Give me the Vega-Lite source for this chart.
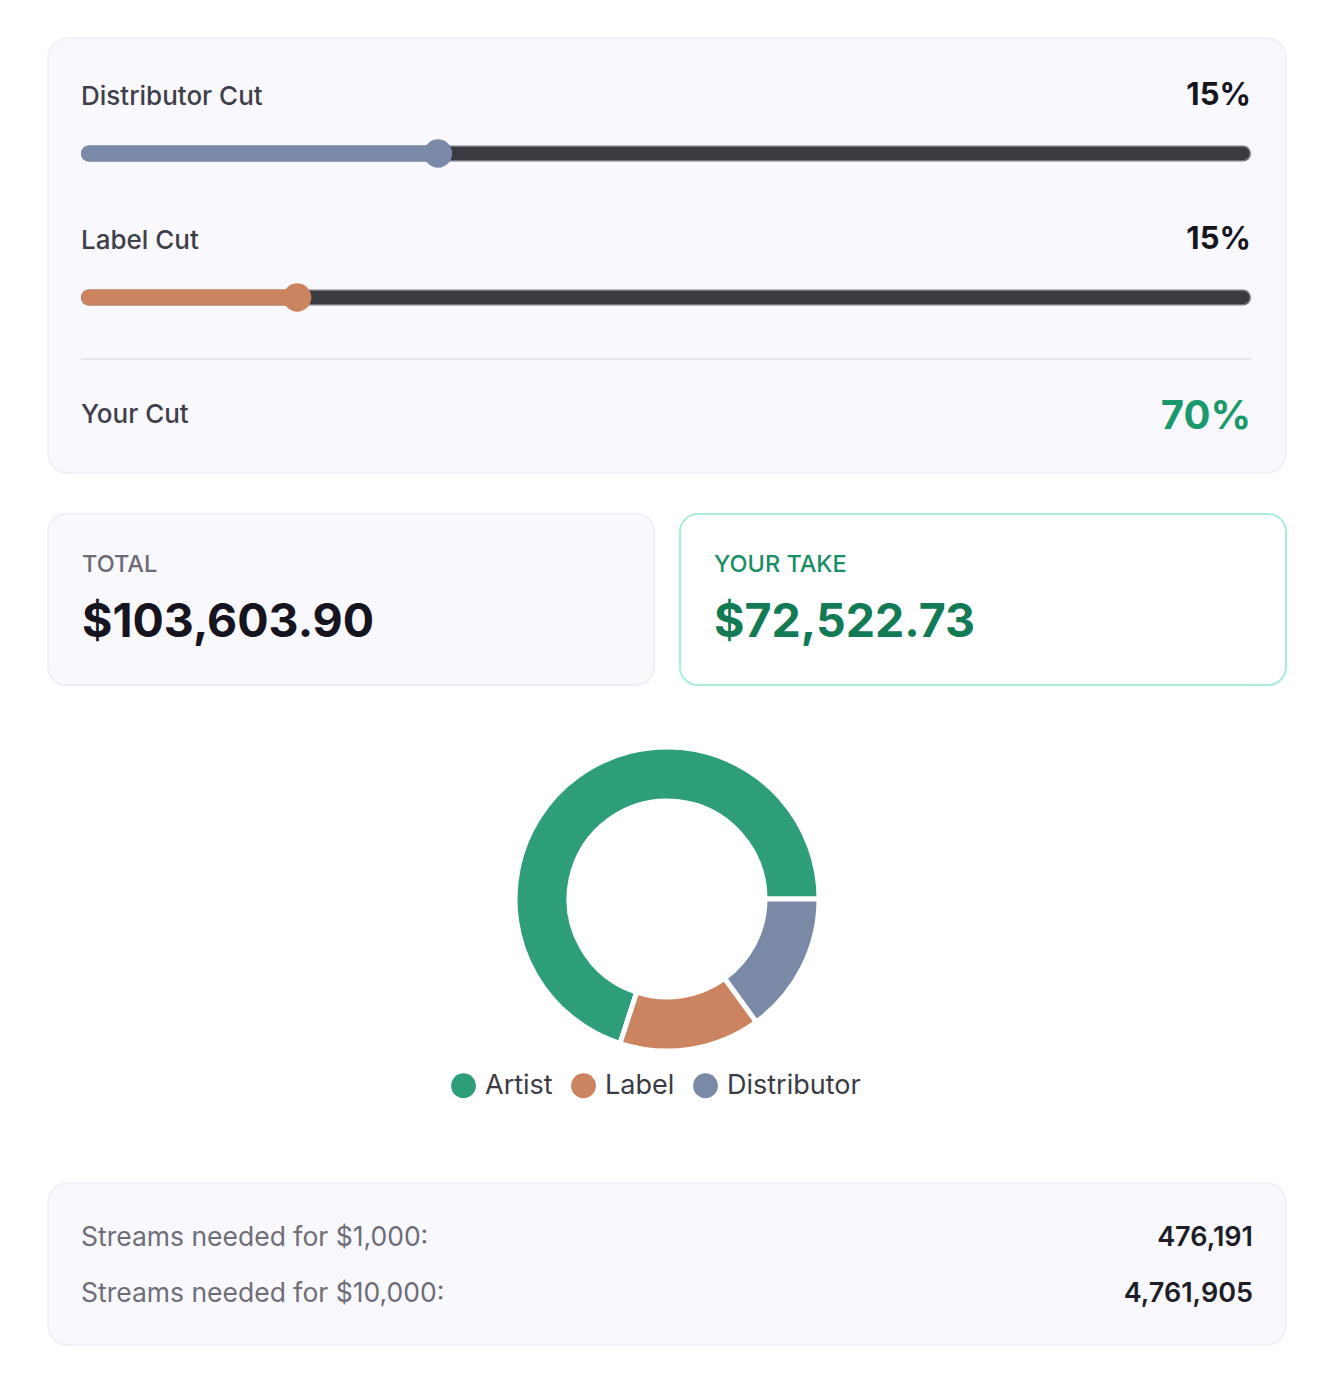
{
  "$schema": "https://vega.github.io/schema/vega-lite/v6.json",
  "background": "#ffffff",
  "padding": {"left": 47, "top": 37, "right": 0, "bottom": 0},
  "autosize": {"type": "pad"},
  "config": {"view": {"stroke": null}, "font": "Inter", "text": {"font": "Inter"}},
  "spacing": 39,
  "vconcat": [
    {
      "width": 1238,
      "height": 435,
      "view": {"fill": "#f9f8fd", "stroke": "#efeef4", "strokeWidth": 1.5, "cornerRadius": 20},
      "resolve": {"scale": {"x": "independent"}},
      "layer": [
        {
          "data": {"values": [{"name": "Distributor Cut", "cut": 0.15, "min": 0, "max": 0.5}]},
          "encoding": {
            "y": {"field": "name", "type": "nominal", "scale": {"type": "point", "domain": ["Distributor Cut", "Label Cut", "Your Cut"], "range": [67, 355], "padding": 0}, "axis": null}
          },
          "layer": [
            {"mark": {"type": "rule", "strokeWidth": 16, "strokeCap": "round", "color": "#76767e", "xOffset": -7, "x2Offset": 7, "yOffset": 48.5},
             "encoding": {"x": {"field": "min", "type": "quantitative", "scale": {"domain": [0, 0.5], "range": [48, 1188], "nice": false, "zero": false}, "axis": null}, "x2": {"field": "max"}}},
            {"mark": {"type": "rule", "strokeWidth": 13, "strokeCap": "round", "color": "#3a3a41", "xOffset": -7, "x2Offset": 7, "yOffset": 48.5},
             "encoding": {"x": {"field": "min", "type": "quantitative"}, "x2": {"field": "max"}}},
            {"mark": {"type": "rule", "strokeWidth": 16, "strokeCap": "round", "color": "#7b8aa8", "xOffset": -7, "yOffset": 48.5},
             "encoding": {"x": {"field": "min", "type": "quantitative"}, "x2": {"field": "cut"}}},
            {"mark": {"type": "point", "filled": true, "size": 800, "opacity": 1, "color": "#7b8aa8", "yOffset": 48.5},
             "encoding": {"x": {"field": "cut", "type": "quantitative"}}},
            {"mark": {"type": "text", "align": "left", "baseline": "alphabetic", "xOffset": -15, "fontSize": 26, "fontWeight": 500, "color": "#3f3f4a"},
             "encoding": {"x": {"field": "min", "type": "quantitative"}, "text": {"field": "name"}}},
            {"mark": {"type": "text", "align": "right", "baseline": "alphabetic", "xOffset": 15, "fontSize": 31, "fontWeight": 700, "color": "#16161f"},
             "encoding": {"x": {"field": "max", "type": "quantitative"}, "text": {"field": "cut", "type": "quantitative", "format": ".0%"}}}
          ]
        },
        {
          "data": {"values": [{"name": "Label Cut", "cut": 0.15, "min": 0, "max": 0.85}]},
          "encoding": {
            "y": {"field": "name", "type": "nominal", "scale": {"type": "point", "domain": ["Distributor Cut", "Label Cut", "Your Cut"], "range": [67, 355], "padding": 0}, "axis": null}
          },
          "layer": [
            {"mark": {"type": "rule", "strokeWidth": 16, "strokeCap": "round", "color": "#76767e", "xOffset": -7, "x2Offset": 7, "yOffset": 48.5},
             "encoding": {"x": {"field": "min", "type": "quantitative", "scale": {"domain": [0, 0.85], "range": [48, 1188], "nice": false, "zero": false}, "axis": null}, "x2": {"field": "max"}}},
            {"mark": {"type": "rule", "strokeWidth": 13, "strokeCap": "round", "color": "#3a3a41", "xOffset": -7, "x2Offset": 7, "yOffset": 48.5},
             "encoding": {"x": {"field": "min", "type": "quantitative"}, "x2": {"field": "max"}}},
            {"mark": {"type": "rule", "strokeWidth": 16, "strokeCap": "round", "color": "#cc8360", "xOffset": -7, "yOffset": 48.5},
             "encoding": {"x": {"field": "min", "type": "quantitative"}, "x2": {"field": "cut"}}},
            {"mark": {"type": "point", "filled": true, "size": 800, "opacity": 1, "color": "#cc8360", "yOffset": 48.5},
             "encoding": {"x": {"field": "cut", "type": "quantitative"}}},
            {"mark": {"type": "text", "align": "left", "baseline": "alphabetic", "xOffset": -15, "fontSize": 26, "fontWeight": 500, "color": "#3f3f4a"},
             "encoding": {"x": {"field": "min", "type": "quantitative"}, "text": {"field": "name"}}},
            {"mark": {"type": "text", "align": "right", "baseline": "alphabetic", "xOffset": 15, "fontSize": 31, "fontWeight": 700, "color": "#16161f"},
             "encoding": {"x": {"field": "max", "type": "quantitative"}, "text": {"field": "cut", "type": "quantitative", "format": ".0%"}}}
          ]
        },
        {
          "data": {"values": [{"name": "Your Cut", "cut": 0.7, "min": 0, "max": 1}]},
          "encoding": {
            "y": {"field": "name", "type": "nominal", "scale": {"type": "point", "domain": ["Distributor Cut", "Label Cut", "Your Cut"], "range": [67, 355], "padding": 0}, "axis": null}
          },
          "layer": [
            {"mark": {"type": "rule", "strokeWidth": 2, "color": "#e6e5ec", "xOffset": -15, "x2Offset": 15, "yOffset": -34},
             "encoding": {"x": {"field": "min", "type": "quantitative", "scale": {"domain": [0, 1], "range": [48, 1188], "nice": false, "zero": false}, "axis": null}, "x2": {"field": "max"}}},
            {"mark": {"type": "text", "align": "left", "baseline": "alphabetic", "xOffset": -15, "yOffset": 30, "fontSize": 26, "fontWeight": 500, "color": "#3f3f4a"},
             "encoding": {"x": {"field": "min", "type": "quantitative"}, "text": {"field": "name"}}},
            {"mark": {"type": "text", "align": "right", "baseline": "alphabetic", "xOffset": 15, "yOffset": 36, "fontSize": 40, "fontWeight": 700, "color": "#1a9a6c"},
             "encoding": {"x": {"field": "max", "type": "quantitative"}, "text": {"field": "cut", "type": "quantitative", "format": ".0%"}}}
          ]
        }
      ]
    },
    {
      "width": 1238,
      "height": 171,
      "data": {"values": [{"card": "TOTAL", "amount": 103603.9}, {"card": "YOUR TAKE", "amount": 72522.73}]},
      "encoding": {
        "x": {"field": "card", "type": "nominal", "scale": {"type": "band", "domain": ["TOTAL", "YOUR TAKE"], "paddingInner": 0.0411, "paddingOuter": 0}, "axis": null}
      },
      "layer": [
        {"mark": {"type": "rect", "cornerRadius": 18, "strokeWidth": 2},
         "encoding": {
           "fill": {"condition": {"test": "datum.card === 'YOUR TAKE'", "value": "#ffffff"}, "value": "#f9f8fd"},
           "stroke": {"condition": {"test": "datum.card === 'YOUR TAKE'", "value": "#a9edd5"}, "value": "#f0eff5"}
         }},
        {"mark": {"type": "text", "align": "left", "baseline": "alphabetic", "dx": 34, "dy": -27.5, "fontSize": 23.5, "fontWeight": 500},
         "encoding": {
           "x": {"field": "card", "type": "nominal", "bandPosition": 0},
           "text": {"field": "card"},
           "color": {"condition": {"test": "datum.card === 'YOUR TAKE'", "value": "#1a8f66"}, "value": "#6b6b76"}
         }},
        {"mark": {"type": "text", "align": "left", "baseline": "alphabetic", "dx": 34, "dy": 37.5, "fontSize": 46.5, "fontWeight": 700},
         "encoding": {
           "x": {"field": "card", "type": "nominal", "bandPosition": 0},
           "text": {"field": "amount", "type": "quantitative", "format": "$,.2f"},
           "color": {"condition": {"test": "datum.card === 'YOUR TAKE'", "value": "#127a55"}, "value": "#15141f"}
         }}
      ]
    },
    {
      "spacing": 109,
      "vconcat": [
        {
          "width": 1238,
          "height": 348,
          "data": {"values": [{"role": "Artist", "share": 0.7}, {"role": "Label", "share": 0.15}, {"role": "Distributor", "share": 0.15}]},
          "mark": {"type": "arc", "innerRadius": 98, "outerRadius": 152, "stroke": "#ffffff", "strokeWidth": 5},
          "encoding": {
            "theta": {"field": "share", "type": "quantitative", "stack": true, "scale": {"range": [3.4558, 9.7389]}},
            "order": {"field": "role", "type": "ordinal", "sort": "ascending"},
            "color": {
              "field": "role", "type": "nominal",
              "scale": {"domain": ["Artist", "Label", "Distributor"], "range": ["#2e9e7a", "#cc8360", "#7a8aa6"]},
              "legend": {"orient": "none", "legendX": 402, "legendY": 1034, "direction": "horizontal", "title": null, "symbolType": "circle", "symbolSize": 615, "symbolStrokeWidth": 0, "labelFontSize": 27, "labelFont": "Inter", "labelColor": "#3b3b46", "labelOffset": 8, "columnPadding": 17, "labelLimit": 300}
            }
          }
        },
        {
          "width": 1238,
          "height": 162,
          "view": {"fill": "#f9f8fd", "stroke": "#efeef4", "strokeWidth": 1.5, "cornerRadius": 20},
          "data": {"values": [{"goal": "Streams needed for $1,000:", "streams": 476191}, {"goal": "Streams needed for $10,000:", "streams": 4761905}]},
          "encoding": {
            "y": {"field": "goal", "type": "nominal", "scale": {"type": "point", "domain": ["Streams needed for $1,000:", "Streams needed for $10,000:"], "range": [63, 119], "padding": 0}, "axis": null}
          },
          "layer": [
            {"mark": {"type": "text", "align": "left", "baseline": "alphabetic", "dx": -586, "fontSize": 26.5, "fontWeight": 400, "color": "#6e6e78"},
             "encoding": {"text": {"field": "goal"}}},
            {"mark": {"type": "text", "align": "right", "baseline": "alphabetic", "dx": 586, "fontSize": 27, "fontWeight": 600, "color": "#1e1e28"},
             "encoding": {"text": {"field": "streams", "type": "quantitative", "format": ","}}}
          ]
        }
      ]
    }
  ]
}
